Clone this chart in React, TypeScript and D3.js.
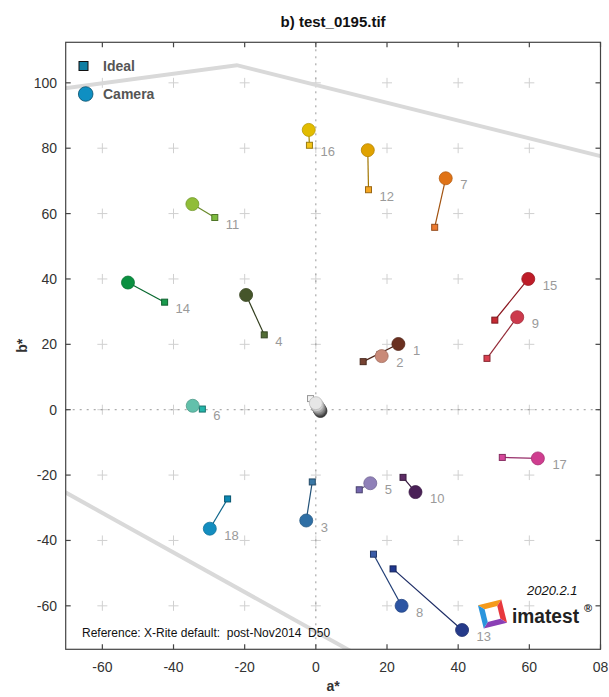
import React from 'react';
import * as d3 from 'd3';

const W = 609;
const H = 697;

const titleText = 'b) test_0195.tif';
const xTicks = [-60, -40, -20, 0, 20, 40, 60, 80];
const xTickLabels = ['-60', '-40', '-20', '0', '20', '40', '60', '08'];
const yTicks = [100, 80, 60, 40, 20, 0, -20, -40, -60];
const gridX = [-60, -40, -20, 0, 20, 40, 60];
const gridY = [100, 80, 60, 40, 20, 0, -20, -40, -60];

const patchIds = [1, 2, 3, 4, 5, 6, 7, 8, 9, 10, 11, 12, 13, 14, 15, 16, 17, 18, 19, 20, 21, 22, 23, 24];
const cameraA = [23.2, 18.5, -2.7, -19.6, 15.3, -34.6, 36.5, 24.1, 56.6, 28.0, -34.7, 14.6, 41.1, -52.8, 59.7, -2.0, 62.4, -29.8, 0.0, 0.3, 0.6, 0.9, 1.1, 1.3];
const cameraB = [20.1, 16.4, -33.9, 35.1, -22.5, 1.2, 70.8, -60.0, 28.3, -25.2, 62.9, 79.4, -67.4, 38.9, 40.0, 85.6, -14.9, -36.4, 2.0, 1.4, 0.9, 0.4, 0.0, -0.4];
const idealA = [13.3, 18.0, -1.0, -14.5, 12.2, -31.9, 33.4, 16.2, 48.1, 24.5, -28.4, 14.8, 21.7, -42.5, 50.3, -1.8, 52.4, -24.8, -1.5, 0.2, 0.3, 0.5, 0.6, 0.8];
const idealB = [14.7, 16.9, -22.1, 22.9, -24.5, 0.2, 55.8, -44.2, 15.7, -20.7, 58.8, 67.3, -48.7, 32.9, 27.4, 80.9, -14.6, -27.3, 3.4, 1.2, 0.8, 0.4, 0.2, 0.0];
const cameraColors = ['#6a3020', '#c98a78', '#2f6fa5', '#45552a', '#8f80b8', '#62c0ab', '#e07316', '#2c55a3', '#cc3a4c', '#4a2157', '#90bd38', '#e0a200', '#253a8a', '#0a9040', '#be1c28', '#e2bc00', '#cf3d8f', '#138dbf', '#e6e6e6', '#cdcdcd', '#a8a8a8', '#818181', '#5a5a5a', '#3a3a3a'];
const idealColors = ['#764232', '#c4917e', '#3a78a6', '#536d36', '#7365ad', '#23b5aa', '#ec7a2f', '#3a5ca8', '#d9404f', '#5d2c66', '#7dbb3f', '#f5a621', '#20388f', '#1a9b4d', '#c62a33', '#f5c518', '#d6479a', '#0b88b3', '#f2f2f2', '#c8c8c8', '#a0a0a0', '#7a7a7a', '#555555', '#343434'];
const labelAt = ['c', 'c', 'c', 'i', 'c', 'i', 'c', 'c', 'c', 'c', 'i', 'i', 'c', 'i', 'c', 'i', 'c', 'c', '', '', '', '', '', ''];

const gamutTopA = [-75, -22.2, 85];
const gamutTopB = [97.7, 105.4, 76.2];
const gamutBottomA = [-75, 15];
const gamutBottomB = [-22.5, -77.0];

const legendLabels = ['Ideal', 'Camera'];
const referenceText = 'Reference: X-Rite default:  post-Nov2014  D50';
const versionText = '2020.2.1';

const FONT = '"Liberation Sans", Arial, Helvetica, sans-serif';

export default function App() {
  const left = 65.7, right = 600.5, top = 42.3, bottom = 649.3;
  const x = d3.scaleLinear().domain([-70.3, 80]).range([left, right]);
  const y = d3.scaleLinear().domain([-73.3, 112.4]).range([bottom, top]);

  const lineGen = d3.line<[number, number]>().x(d => x(d[0])).y(d => y(d[1]));
  const gamutTop = lineGen(gamutTopA.map((a, i) => [a, gamutTopB[i]] as [number, number]));
  const gamutBottom = lineGen(gamutBottomA.map((a, i) => [a, gamutBottomB[i]] as [number, number]));

  const R = 6.5;
  const SQ = 6;
  const order = [...d3.range(0, 18), 23, 22, 21, 20, 19, 18];

  const cx = 492.5, cy = 614;
  const so = 12, si = 6.5;
  const frame = [
    { pts: [[-so, -so], [so, -so], [si, -si], [-si, -si]], c: '#f59a1b' },
    { pts: [[so, -so], [so, so], [si, si], [si, -si]], c: '#e8383d' },
    { pts: [[so, so], [-so, so], [-si, si], [si, si]], c: '#8a3fb5' },
    { pts: [[-so, so], [-so, -so], [-si, -si], [-si, si]], c: '#2a95dd' },
  ];

  return (
    <svg width={W} height={H} style={{ position: 'absolute', left: 0, top: 0, background: '#fff' }} fontFamily={FONT}>
      <rect x={0} y={0} width={W} height={H} fill="#fff" />
      <defs>
        <clipPath id="plotClip">
          <rect x={left} y={top} width={right - left} height={bottom - top} />
        </clipPath>
      </defs>
      <text x={(left + right) / 2} y={27} textAnchor="middle" fontSize={15} fontWeight="bold" fill="#111">{titleText}</text>

      {/* grid pluses */}
      <g stroke="#d0d0d0" strokeWidth={1}>
        {gridX.map(gx => gridY.map(gy => (
          <g key={`${gx}_${gy}`}>
            <line x1={x(gx) - 5} x2={x(gx) + 5} y1={y(gy)} y2={y(gy)} />
            <line x1={x(gx)} x2={x(gx)} y1={y(gy) - 5} y2={y(gy) + 5} />
          </g>
        )))}
      </g>
      {/* zero lines */}
      <g stroke="#999" strokeWidth={1} strokeDasharray="2 5">
        <line x1={x(0)} x2={x(0)} y1={top} y2={bottom} />
        <line x1={left} x2={right} y1={y(0)} y2={y(0)} />
      </g>
      {/* gamut */}
      <g clipPath="url(#plotClip)" fill="none" stroke="#d9d9d9" strokeWidth={4}>
        <path d={gamutTop || ''} />
        <path d={gamutBottom || ''} />
      </g>

      {/* connecting lines */}
      <g>
        {order.map(i => (
          <line key={`l${i}`} x1={x(idealA[i])} y1={y(idealB[i])} x2={x(cameraA[i])} y2={y(cameraB[i])}
            stroke={d3.color(cameraColors[i])!.darker(0.9).formatHex()} strokeWidth={1.2} />
        ))}
      </g>
      {/* ideal squares */}
      <g>
        {order.map(i => (
          <rect key={`s${i}`} x={x(idealA[i]) - SQ / 2} y={y(idealB[i]) - SQ / 2} width={SQ} height={SQ}
            fill={idealColors[i]} stroke={d3.color(idealColors[i])!.darker(1.3).formatHex()} strokeWidth={1} />
        ))}
      </g>
      {/* camera circles */}
      <g>
        {order.map(i => (
          <circle key={`c${i}`} cx={x(cameraA[i])} cy={y(cameraB[i])} r={R}
            fill={cameraColors[i]} stroke={d3.color(cameraColors[i])!.darker(0.6).formatHex()} strokeWidth={0.8} />
        ))}
      </g>
      {/* patch labels */}
      <g fontSize={13} fill="#9a9a9a">
        {patchIds.map((id, i) => {
          if (!labelAt[i]) return null;
          const isC = labelAt[i] === 'c';
          const px = isC ? x(cameraA[i]) : x(idealA[i]);
          const py = isC ? y(cameraB[i]) : y(idealB[i]);
          const off = isC ? R + 8 : SQ / 2 + 8;
          return <text key={`t${id}`} x={px + off} y={py + 11}>{id}</text>;
        })}
      </g>

      {/* axes box */}
      <rect x={left} y={top} width={right - left} height={bottom - top} fill="none" stroke="#444" strokeWidth={1.2} />
      <g stroke="#444" strokeWidth={1.2}>
        {xTicks.map(t => (
          <g key={`xt${t}`}>
            <line x1={x(t)} x2={x(t)} y1={bottom} y2={bottom - 5} />
            <line x1={x(t)} x2={x(t)} y1={top} y2={top + 5} />
          </g>
        ))}
        {yTicks.map(t => (
          <g key={`yt${t}`}>
            <line x1={left} x2={left + 5} y1={y(t)} y2={y(t)} />
            <line x1={right} x2={right - 5} y1={y(t)} y2={y(t)} />
          </g>
        ))}
      </g>
      <g fontSize={14} fill="#333">
        {xTicks.map((t, i) => (
          <text key={`xl${t}`} x={x(t)} y={672} textAnchor="middle">{xTickLabels[i]}</text>
        ))}
        {yTicks.map(t => (
          <text key={`yl${t}`} x={57} y={y(t) + 5} textAnchor="end">{t}</text>
        ))}
      </g>
      <text x={(left + right) / 2} y={691} textAnchor="middle" fontSize={14} fontWeight="bold" fill="#333">a*</text>
      <text transform={`translate(27, ${(top + bottom) / 2}) rotate(-90)`} textAnchor="middle" fontSize={14} fontWeight="bold" fill="#333">b*</text>

      {/* legend */}
      <rect x={79} y={61.5} width={9} height={9} fill="#0f7ea3" stroke="#111" strokeWidth={1} />
      <circle cx={85.7} cy={94} r={7.3} fill="#0f8fc2" stroke="#0b4f6a" strokeWidth={0.8} />
      <g fontSize={14} fontWeight="bold" fill="#555">
        <text x={103} y={71}>{legendLabels[0]}</text>
        <text x={103} y={99}>{legendLabels[1]}</text>
      </g>

      {/* reference */}
      <text x={82} y={637} fontSize={12} fill="#111" style={{ whiteSpace: 'pre' }} xmlSpace="preserve">{referenceText}</text>
      <text x={527} y={595} fontSize={13} fontStyle="italic" fill="#111">{versionText}</text>
      {/* logo */}
      <g transform={`translate(${cx},${cy}) rotate(-14)`}>
        {frame.map((f, k) => (
          <polygon key={k} points={f.pts.map(p => p.join(',')).join(' ')} fill={f.c} />
        ))}
      </g>
      <text x={512} y={623} fontSize={20} fontWeight="bold" fill="#222" textLength={67} lengthAdjust="spacingAndGlyphs">imatest</text>
      <text x={584} y={612} fontSize={11} fontWeight="bold" fill="#222">®</text>
    </svg>
  );
}
